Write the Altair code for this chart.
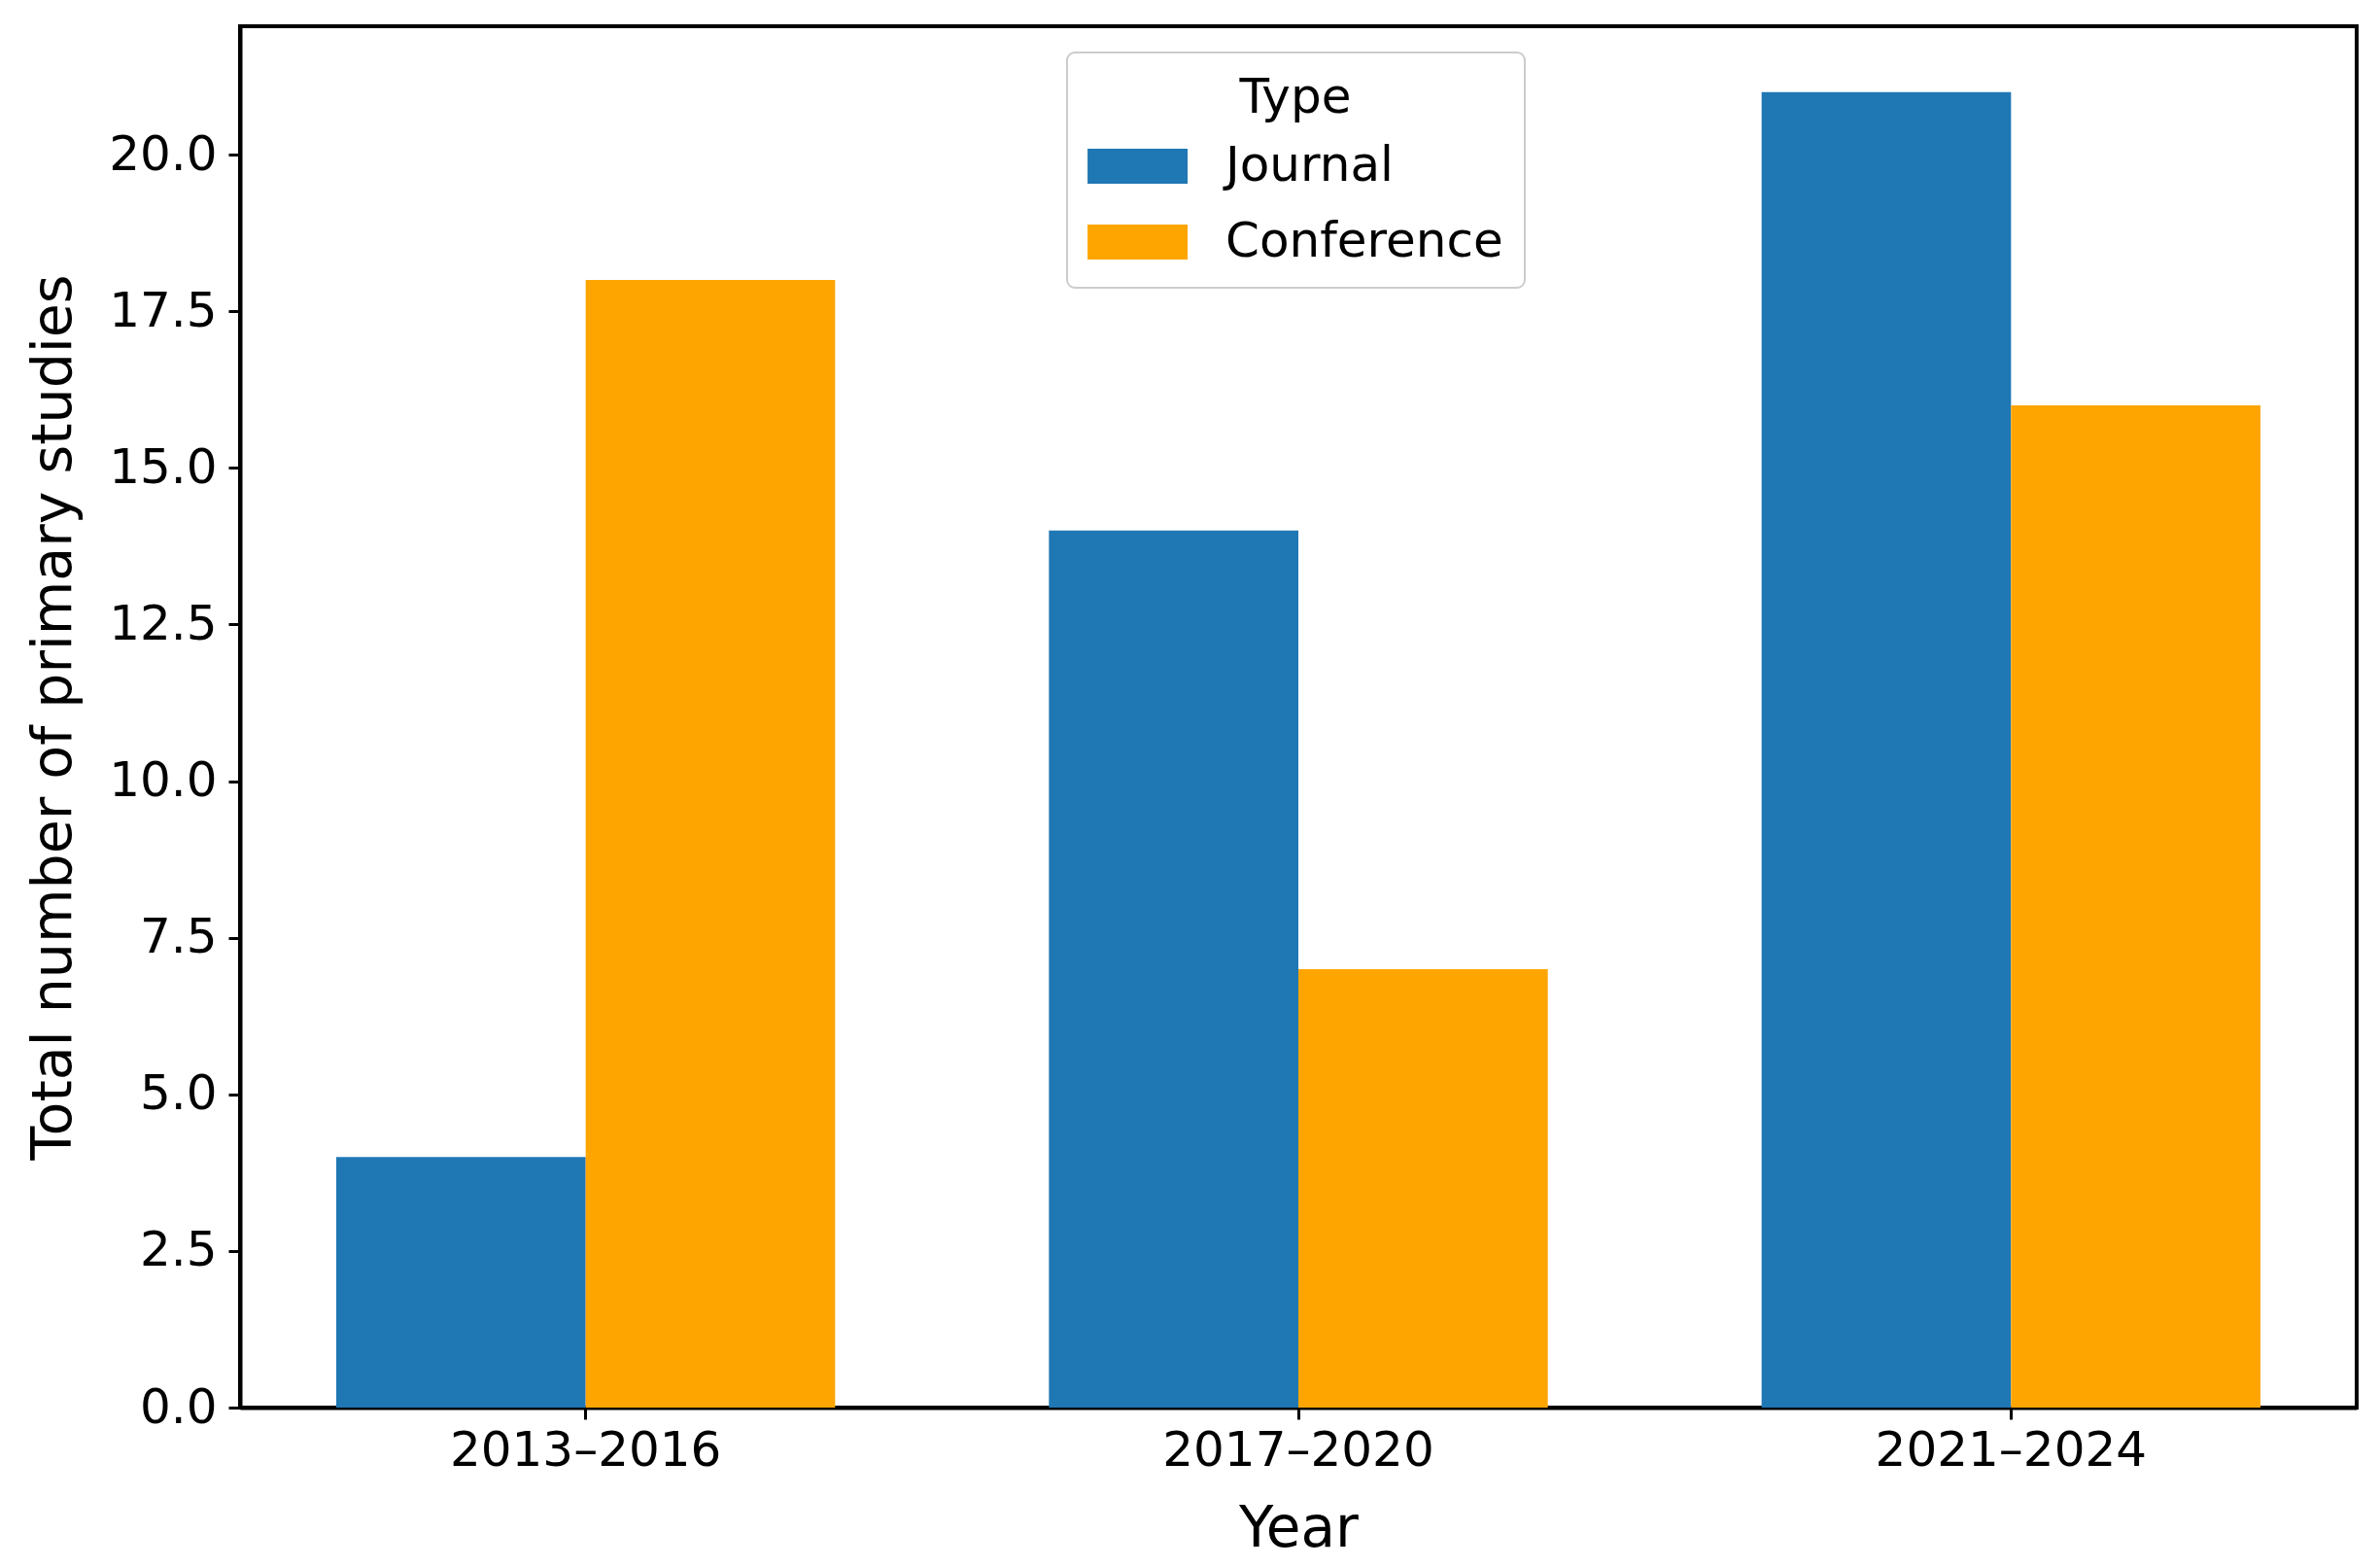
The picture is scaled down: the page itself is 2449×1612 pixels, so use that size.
import altair as alt
import pandas as pd

years = ["2013–2016", "2017–2020", "2021–2024"]
types = ["Journal", "Conference"]
journal = [4, 14, 21]
conference = [18, 7, 16]
colors = ["#1f77b4", "#ffa500"]
y_ticks = [0, 2.5, 5, 7.5, 10, 12.5, 15, 17.5, 20]

rows = []
for i, yr in enumerate(years):
    rows.append({"Year": yr, "Type": "Journal", "Count": journal[i]})
    rows.append({"Year": yr, "Type": "Conference", "Count": conference[i]})
df = pd.DataFrame(rows)

W, H = 2178, 1421
FONT = "DejaVu Sans"

chart = alt.Chart(df).mark_bar().encode(
    x=alt.X(
        "Year:N", sort=years,
        scale=alt.Scale(paddingInner=0.3, paddingOuter=0.135),
        axis=alt.Axis(
            title="Year", labelAngle=0, labelFont=FONT, labelFontSize=50,
            labelColor="black", labelPadding=7, labelLimit=0, tickSize=12, tickWidth=3,
            tickColor="black", domainColor="black", domainWidth=4,
            titleFont=FONT, titleFontSize=58, titleFontWeight="normal",
            titleColor="black", titleY=142, titleBaseline="alphabetic",
        ),
    ),
    xOffset=alt.XOffset("Type:N", sort=types, scale=alt.Scale(paddingInner=0, paddingOuter=0)),
    y=alt.Y(
        "Count:Q",
        scale=alt.Scale(domain=[0, 22.05], nice=False, zero=True),
        axis=alt.Axis(
            title="Total number of primary studies", values=y_ticks, format=".1f",
            grid=False, labelFont=FONT, labelFontSize=50, labelColor="black",
            labelPadding=12, labelLimit=0, tickSize=12, tickWidth=3, tickColor="black",
            domainColor="black", domainWidth=4,
            titleFont=FONT, titleFontSize=57, titleFontWeight="normal",
            titleColor="black", titleX=-192, titleY=H / 2, titleBaseline="middle",
        ),
    ),
    color=alt.Color(
        "Type:N", sort=types,
        scale=alt.Scale(domain=types, range=colors),
        legend=alt.Legend(
            orient="none", legendX=851, legendY=27, title="Type",
            titleFont=FONT, titleFontSize=50, titleFontWeight="normal",
            titleColor="black", titleAnchor="middle", titlePadding=20,
            labelFont=FONT, labelFontSize=50, labelColor="black", labelLimit=0,
            symbolType="M-1.44,-1H4.28V1H-1.44Z", symbolSize=1296,
            symbolStrokeWidth=0, symbolOpacity=1, labelOffset=91,
            rowPadding=28, padding=22, fillColor="white",
            strokeColor="#cccccc", cornerRadius=8,
        ),
    ),
).properties(
    width=W, height=H,
    autosize=alt.AutoSizeParams(type="none"),
    padding={"left": 239, "top": 19, "right": 16, "bottom": 170},
).configure_view(
    stroke="black", strokeWidth=4
).configure_legend(
    strokeWidth=2
)

chart.save("out.html", embed_options={"renderer": "svg", "actions": False})
